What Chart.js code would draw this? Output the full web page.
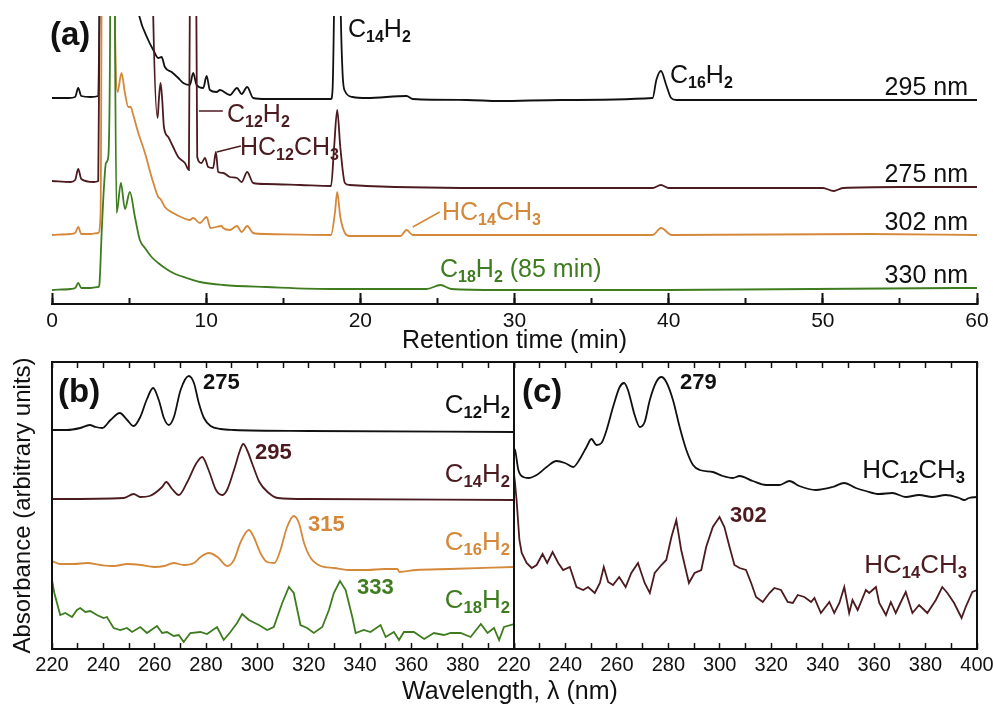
<!DOCTYPE html>
<html>
<head>
<meta charset="utf-8">
<title>Polyyne HPLC traces and UV spectra</title>
<script src="https://cdn.jsdelivr.net/npm/chart.js"></script>
<style>
  body { margin: 0; background: #fff; }
  #wrap { position: relative; width: 993px; height: 704px; overflow: hidden; font-family: "Liberation Sans", Arial, sans-serif; }
  canvas { position: absolute; }
  #chartA { left: 0; top: 0; }
  #chartB { left: 0; top: 350px; }
  #chartC { left: 484px; top: 350px; }
  .t { position: absolute; line-height: 1; white-space: nowrap; font-size: 25px; color: #111; }
  .t sub { font-size: 64%; font-weight: bold; position: relative; top: 0.32em; vertical-align: baseline; line-height: 0; }
  .b { font-weight: bold; }
  .m { color: #4c1b20; }
  .o { color: #d4883a; }
  .g { color: #3e7c1f; }
</style>
</head>
<body>
<div id="wrap">
  <canvas id="chartA" width="993" height="360"></canvas>
  <canvas id="chartB" width="524" height="354"></canvas>
  <canvas id="chartC" width="509" height="354"></canvas>

  <!-- panel (a) labels -->
  <div class="t b" style="left:50px;top:17px;font-size:33px">(a)</div>
  <div class="t" style="left:348px;top:16px">C<sub>14</sub>H<sub>2</sub></div>
  <div class="t" style="left:670px;top:62px">C<sub>16</sub>H<sub>2</sub></div>
  <div class="t m" style="left:227px;top:101px">C<sub>12</sub>H<sub>2</sub></div>
  <div class="t m" style="left:240px;top:134px">HC<sub>12</sub>CH<sub>3</sub></div>
  <div class="t o" style="left:442px;top:199px">HC<sub>14</sub>CH<sub>3</sub></div>
  <div class="t g" style="left:440px;top:256px">C<sub>18</sub>H<sub>2</sub> (85 min)</div>
  <div class="t" style="right:25px;top:74px">295 nm</div>
  <div class="t" style="right:25px;top:161px">275 nm</div>
  <div class="t" style="right:25px;top:209px">302 nm</div>
  <div class="t" style="right:25px;top:262px">330 nm</div>

  <!-- panel (b) labels -->
  <div class="t b" style="left:58px;top:374px;font-size:33px">(b)</div>
  <div class="t b" style="left:203px;top:371px;font-size:22px">275</div>
  <div class="t b m" style="left:255px;top:441px;font-size:22px">295</div>
  <div class="t b o" style="left:308px;top:513px;font-size:22px">315</div>
  <div class="t b g" style="left:357px;top:576px;font-size:22px">333</div>
  <div class="t" style="right:483px;top:391px;font-size:26px">C<sub>12</sub>H<sub>2</sub></div>
  <div class="t m" style="right:483px;top:460px;font-size:26px">C<sub>14</sub>H<sub>2</sub></div>
  <div class="t o" style="right:483px;top:528px;font-size:26px">C<sub>16</sub>H<sub>2</sub></div>
  <div class="t g" style="right:483px;top:586px;font-size:26px">C<sub>18</sub>H<sub>2</sub></div>

  <!-- panel (c) labels -->
  <div class="t b" style="left:522px;top:374px;font-size:33px">(c)</div>
  <div class="t b" style="left:680px;top:371px;font-size:22px">279</div>
  <div class="t b m" style="left:730px;top:504px;font-size:22px">302</div>
  <div class="t" style="right:28px;top:456px;font-size:26px">HC<sub>12</sub>CH<sub>3</sub></div>
  <div class="t m" style="right:26px;top:551px;font-size:26px">HC<sub>14</sub>CH<sub>3</sub></div>

  <div class="t" style="left:310px;width:400px;text-align:center;top:678px">Wavelength, λ (nm)</div>
</div>

<script>
    // ---- panel (a): chromatograms, [retention time (min), signal (a.u.)] ----
    const trace295 = [[0,206],[1.1,206],[1.5,207],[1.7,216],[1.9,208],[2.5,207],[3.0,208],[3.1,330],[3.3,600],[4.5,600],
        [5.3,320],[5.66,288],[6.24,264],[6.57,254],[6.89,246],[7.11,247],[7.32,237],[7.76,232],[8.19,226],[8.51,221],
        [8.94,219],[9.16,231],[9.38,219],[9.81,216],[10.03,228],[10.24,214],[10.67,212],[10.9,214],[11.54,209],[12.0,216],
        [12.3,210],[12.66,217],[13.05,206],[13.9,205],[16.1,205],[18.1,205],[18.2,215],[18.3,300],[18.5,600],[18.72,300],
        [18.85,230],[19.0,213],[19.5,207],[20.4,206],[23.0,208],[23.4,205],[26.9,204],[29.0,203],[33,204],[38.96,206],
        [39.2,224],[39.5,233],[39.84,219],[40.16,206],[40.5,204],[45,204],[50,204],[55,204],[60,204]];
    const trace275 = [[0,123],[1.2,122],[1.5,124],[1.7,135],[1.9,125],[2.7,122],[3.0,123],[3.1,330],[3.3,600],[6.3,600],
        [6.55,300],[6.85,186],[6.93,204],[7.04,221],[7.15,204],[7.26,177],[7.54,167],[7.86,157],[8.19,147],[8.62,141],
        [8.88,134],[8.97,400],[9.1,600],[9.25,600],[9.33,400],[9.42,147],[9.7,141],[9.92,146],[10.13,137],[10.45,136],
        [10.63,152],[10.78,132],[11.1,131],[11.54,127],[12.0,126],[12.3,122],[12.66,132],[13.05,121],[13.9,120],[16.1,119],
        [18.1,118],[18.3,157],[18.5,194],[18.7,157],[19.0,121],[19.3,119],[20.4,118],[29,116],[38.96,116],[39.5,119],
        [40.0,116],[50.0,116],[50.7,113],[51.3,116],[55,117],[60,117]];
    const trace302 = [[0,69],[1.2,70],[1.5,71],[1.7,77],[1.9,70],[2.5,70],[3.0,71],[3.15,90],[3.3,600],[3.9,600],
        [4.05,320],[4.25,212],[4.51,231],[4.73,211],[4.95,197],[5.1,197],[5.27,189],[5.6,171],[6.03,151],[6.46,127],
        [6.89,107],[7.04,105],[7.32,97],[7.86,91],[8.51,86],[8.94,84],[9.16,86],[9.59,81],[10.03,87],[10.28,76],
        [11.0,78],[11.1,76],[11.54,74],[12.0,78],[12.3,72],[12.66,78],[13.05,71],[13.9,70],[18.1,69],[18.35,91],
        [18.5,112],[18.7,87],[19.0,71],[19.3,68],[22.6,68],[23.0,74],[23.4,69],[29,69],[38.96,69],[39.5,76],
        [40.2,69],[53,70],[60,69]];
    const trace330 = [[0,14],[1.2,15],[1.5,16],[1.7,21],[1.9,16],[2.5,16],[3.0,17],[3.07,19],[3.22,71],[3.37,117],
        [3.5,141],[3.65,147],[3.76,250],[3.85,600],[4.0,600],[4.08,288],[4.19,91],[4.47,121],[4.73,95],[5.05,112],
        [5.38,87],[5.7,64],[6.03,56],[6.46,47],[6.89,41],[7.32,36],[7.86,31],[8.73,26],[9.59,22],[11.1,19],
        [13.9,17],[18.3,15],[24.3,15],[25.2,19],[25.9,15],[29,14],[40,14],[58.7,16],[60,16]];
    // label leader lines, [time, signal] -> [time, signal]
    const leaders = [
        { from: [9.53, 193], to: [11.08, 193], color: '#4c1b20' },
        { from: [10.69, 152], to: [12.25, 158], color: '#4c1b20' },
        { from: [23.4, 77], to: [25.15, 92], color: '#d4883a' }
    ];

    // ---- panel (b): diacetylene spectra, [wavelength (nm), absorbance (a.u.)] ----
    const specC12 = [[220,219],[225.8,219],[231,221],[234.7,224],[237,222],[239.6,221],[242.8,229],[246.4,236],[249.3,229],
        [251.8,223],[254.4,232],[257,250],[259.4,261],[261.6,249],[263.6,231],[265.5,224],[267.5,232],[270.1,259],
        [273.3,273],[275.3,266],[277.2,246],[279.2,231],[281.8,223],[285.7,220],[290.9,219],[320,218],[400,217]];
    const specC14 = [[220,150],[248,151],[251.8,155],[254.4,152],[258,153],[262.9,162],[264.5,167],[266.8,160],[269.4,154],
        [272.5,166],[276.3,186],[278.5,192],[281,179],[283.9,159],[286.3,154],[288.2,159],[290.9,179],[293.3,199],
        [294.5,205],[296,199],[298.2,184],[300.8,167],[304,157],[308,151],[320,150],[400,149]];
    const specC16 = [[220,88],[223.3,85],[228.5,85],[233.7,86],[239,84],[244.2,83],[249.4,85],[254.6,84],[259.8,82],
        [263.7,83],[267.4,86],[271.4,84],[275.3,86],[277.9,92],[281.1,96],[284.5,92],[288.3,83],[290.9,89],[293.5,107],
        [296.7,119],[298.6,112],[301.2,96],[303.8,87],[306.7,86],[309,99],[311.6,122],[314.2,133],[316.2,126],
        [318.2,106],[320.8,91],[324.7,83],[329.9,81],[336.4,79],[342.9,79],[349.4,80],[354.6,80],[355.3,77],
        [361.8,79],[374.8,80],[400,82]];
    const specC18 = [[220,69],[220.9,56],[223.2,34],[225.2,36],[226.5,34],[227.8,32],[229.7,39],[231,41],[233,37],
        [234.9,38],[237.5,34],[240.1,31],[241.4,32],[244,21],[246.6,19],[249.2,21],[251.2,17],[254.4,22],[257,16],
        [260.9,23],[262.9,16],[264.8,17],[267.4,13],[269.4,14],[271.3,7],[273.9,16],[277.8,17],[280.4,15],[284.3,22],
        [286.9,9],[289.5,17],[292.1,26],[294.1,35],[296.7,29],[300.6,24],[303.8,19],[306.4,22],[309.7,46],[312.3,62],
        [314.2,56],[316.8,24],[319.4,21],[322,16],[325.3,22],[327.9,39],[329.8,56],[332.2,68],[334.4,59],[337,32],
        [338.3,16],[341.5,19],[344.1,17],[348,24],[350,12],[353.2,17],[355.2,9],[357.1,17],[361,17],[365,10],
        [368.8,16],[372.7,14],[375.3,16],[379.2,16],[383.1,12],[387.1,25],[389.7,16],[392.2,21],[394.2,9],
        [396.1,22],[400,25]];

    // ---- panel (c): methyl-capped spectra ----
    const specHC12 = [[220,200],[220.4,199],[221.7,179],[223.6,172],[225.6,171],[228.8,174],[232.7,182],[236.5,188],
        [239.8,186],[243,182],[245.6,190],[248.2,202],[250.1,210],[252.1,204],[254,206],[256,219],[258.5,242],
        [261.1,262],[262.8,266],[264.3,259],[266.9,234],[268.9,222],[270.8,227],[272.8,249],[275.3,267],[277.3,272],
        [279.2,267],[281.8,249],[284.4,222],[287,199],[289.6,184],[292.2,179],[297.3,177],[301.2,173],[305.1,171],
        [307.7,173],[312.8,168],[318,164],[323.2,164],[327.1,168],[330.9,163],[337.4,159],[343.9,162],[348.4,166],
        [352.9,161],[356.8,158],[362,155],[367.1,156],[372.3,152],[377.5,154],[382.7,152],[387.8,154],[393,151],
        [395,149],[396.9,151],[400,152]];
    const specHC14 = [[220,175],[220.4,166],[221,149],[222.1,109],[223,96],[224.9,86],[226.9,81],[228.8,84],[231.1,95],
        [232.9,86],[235,97],[237.2,86],[239.1,79],[241.7,82],[244.3,62],[246.9,59],[248.8,62],[251.4,56],[253.4,66],
        [254.9,82],[256.6,67],[258.5,64],[260.9,72],[263.4,62],[265.6,76],[268.2,86],[270.8,66],[272.8,56],[274.7,76],
        [277.3,84],[279.2,89],[281.2,112],[283.1,129],[285,99],[288,66],[290.2,76],[292.8,79],[294.7,102],[297.3,122],
        [299.9,132],[301.8,122],[303.8,102],[305.7,84],[307.7,81],[310.2,79],[312.2,66],[314.1,52],[316.7,47],
        [319.3,56],[321.2,61],[323.8,59],[326.4,47],[328.4,46],[330.3,54],[332.9,52],[335.5,47],[336.8,51],[339.3,36],
        [342.6,47],[344.5,36],[346.5,46],[348.4,62],[350.3,36],[351.6,49],[353.6,39],[356.8,59],[358.1,56],[360.7,62],
        [362,46],[364.6,34],[366.5,47],[368.4,36],[370.4,47],[372.3,57],[374.9,36],[377.5,44],[380.7,36],[384,49],
        [386.5,62],[388.5,56],[391.1,46],[394,31],[395.6,42],[398.2,57],[400,59]];

    const FONT = '"Liberation Sans", Arial, sans-serif';
    const INK = '#111111';
    const MAROON = '#4c1b20', ORANGE = '#d4883a', GREEN = '#3e7c1f';
    Chart.defaults.font.family = FONT;
    Chart.defaults.color = INK;

    function series(points, color, smooth) {
        return {
            data: points,
            borderColor: color,
            borderWidth: 1.8,
            pointRadius: 0,
            fill: false,
            tension: smooth ? 0.4 : 0,
            cubicInterpolationMode: smooth ? 'monotone' : 'default'
        };
    }

    // inward tick marks, no grid
    function tickGrid(len, width) {
        return { drawOnChartArea: false, drawTicks: true, tickLength: -len, tickWidth: width, tickColor: INK };
    }

    // fix an axis box size and drop the end-label padding Chart.js adds
    function fixedHeight(h) {
        return s => { s.height = h; s.paddingLeft = 0; s.paddingRight = 0; };
    }

    const leaderPlugin = {
        id: 'leaders',
        afterDatasetsDraw(chart) {
            const { ctx, scales } = chart;
            ctx.save();
            ctx.lineWidth = 1.5;
            leaders.forEach(l => {
                ctx.strokeStyle = l.color;
                ctx.beginPath();
                ctx.moveTo(scales.x.getPixelForValue(l.from[0]), scales.y.getPixelForValue(l.from[1]));
                ctx.lineTo(scales.x.getPixelForValue(l.to[0]), scales.y.getPixelForValue(l.to[1]));
                ctx.stroke();
            });
            ctx.restore();
        }
    };

    const framePlugin = {
        id: 'frame',
        afterDraw(chart) {
            const { ctx, chartArea: a } = chart;
            ctx.save();
            ctx.strokeStyle = INK;
            ctx.lineWidth = 2;
            ctx.strokeRect(a.left, a.top, a.right - a.left, a.bottom - a.top);
            ctx.restore();
        }
    };

    const quiet = { legend: { display: false }, tooltip: { enabled: false } };

    // panel (a)
    new Chart(document.getElementById('chartA'), {
        type: 'line',
        data: { datasets: [
            series(trace330, GREEN, true), series(trace302, ORANGE, true),
            series(trace275, MAROON, true), series(trace295, INK, true)
        ] },
        options: {
            responsive: false,
            animation: false,
            layout: { padding: { left: 52, right: 16, top: 16, bottom: 0 } },
            plugins: quiet,
            scales: {
                x: {
                    type: 'linear', position: 'bottom', weight: 1, min: 0, max: 60,
                    ticks: { stepSize: 10, autoSkip: false, maxRotation: 0, padding: 16, font: { size: 21 } },
                    grid: tickGrid(11, 2),
                    border: { display: true, width: 2, color: INK },
                    title: { display: true, text: 'Retention time (min)', font: { size: 25 }, padding: { top: 0, bottom: 4 } },
                    afterFit: fixedHeight(56)
                },
                xMinor: {
                    type: 'linear', axis: 'x', position: 'bottom', weight: 0, min: 0, max: 60,
                    ticks: { stepSize: 5, autoSkip: false, maxRotation: 0, callback: () => '' },
                    grid: tickGrid(6, 2),
                    border: { display: false },
                    afterFit: fixedHeight(0)
                },
                y: { display: false, min: 0, max: 288 }
            }
        },
        plugins: [leaderPlugin]
    });

    function spectrumScales(lastLabel, withTitle) {
        return {
            x: {
                type: 'linear', position: 'bottom', min: 220, max: 400,
                ticks: {
                    stepSize: 10, autoSkip: false, maxRotation: 0, padding: 10, font: { size: 20 },
                    callback: v => (Math.round(v) % 20 === 0 && v <= lastLabel) ? Math.round(v) : ''
                },
                grid: tickGrid(6, 1.5),
                border: { display: false },
                afterFit: fixedHeight(55)
            },
            xTop: {
                type: 'linear', axis: 'x', position: 'top', min: 220, max: 400,
                ticks: { stepSize: 10, autoSkip: false, maxRotation: 0, callback: () => '' },
                grid: tickGrid(6, 1.5),
                border: { display: false },
                afterFit: fixedHeight(0)
            },
            y: withTitle ? {
                min: 0, max: 287,
                ticks: { display: false },
                grid: { display: false },
                border: { display: false },
                title: { display: true, text: 'Absorbance (arbitrary units)', font: { size: 24 }, padding: { top: 9, bottom: 0 } },
                afterFit: s => { s.width = 52; }
            } : { display: false, min: 0, max: 287 }
        };
    }

    // panel (b)
    new Chart(document.getElementById('chartB'), {
        type: 'line',
        data: { datasets: [
            series(specC12, INK, true), series(specC14, MAROON, true),
            series(specC16, ORANGE, true), series(specC18, GREEN, false)
        ] },
        options: {
            responsive: false,
            animation: false,
            layout: { padding: { left: 0, right: 10, top: 12, bottom: 0 } },
            plugins: quiet,
            scales: spectrumScales(380, true)
        },
        plugins: [framePlugin]
    });

    // panel (c)
    new Chart(document.getElementById('chartC'), {
        type: 'line',
        data: { datasets: [
            series(specHC12, INK, true), series(specHC14, MAROON, false)
        ] },
        options: {
            responsive: false,
            animation: false,
            layout: { padding: { left: 30, right: 16, top: 12, bottom: 0 } },
            plugins: quiet,
            scales: spectrumScales(400, false)
        },
        plugins: [framePlugin]
    });
</script>
</body>
</html>
